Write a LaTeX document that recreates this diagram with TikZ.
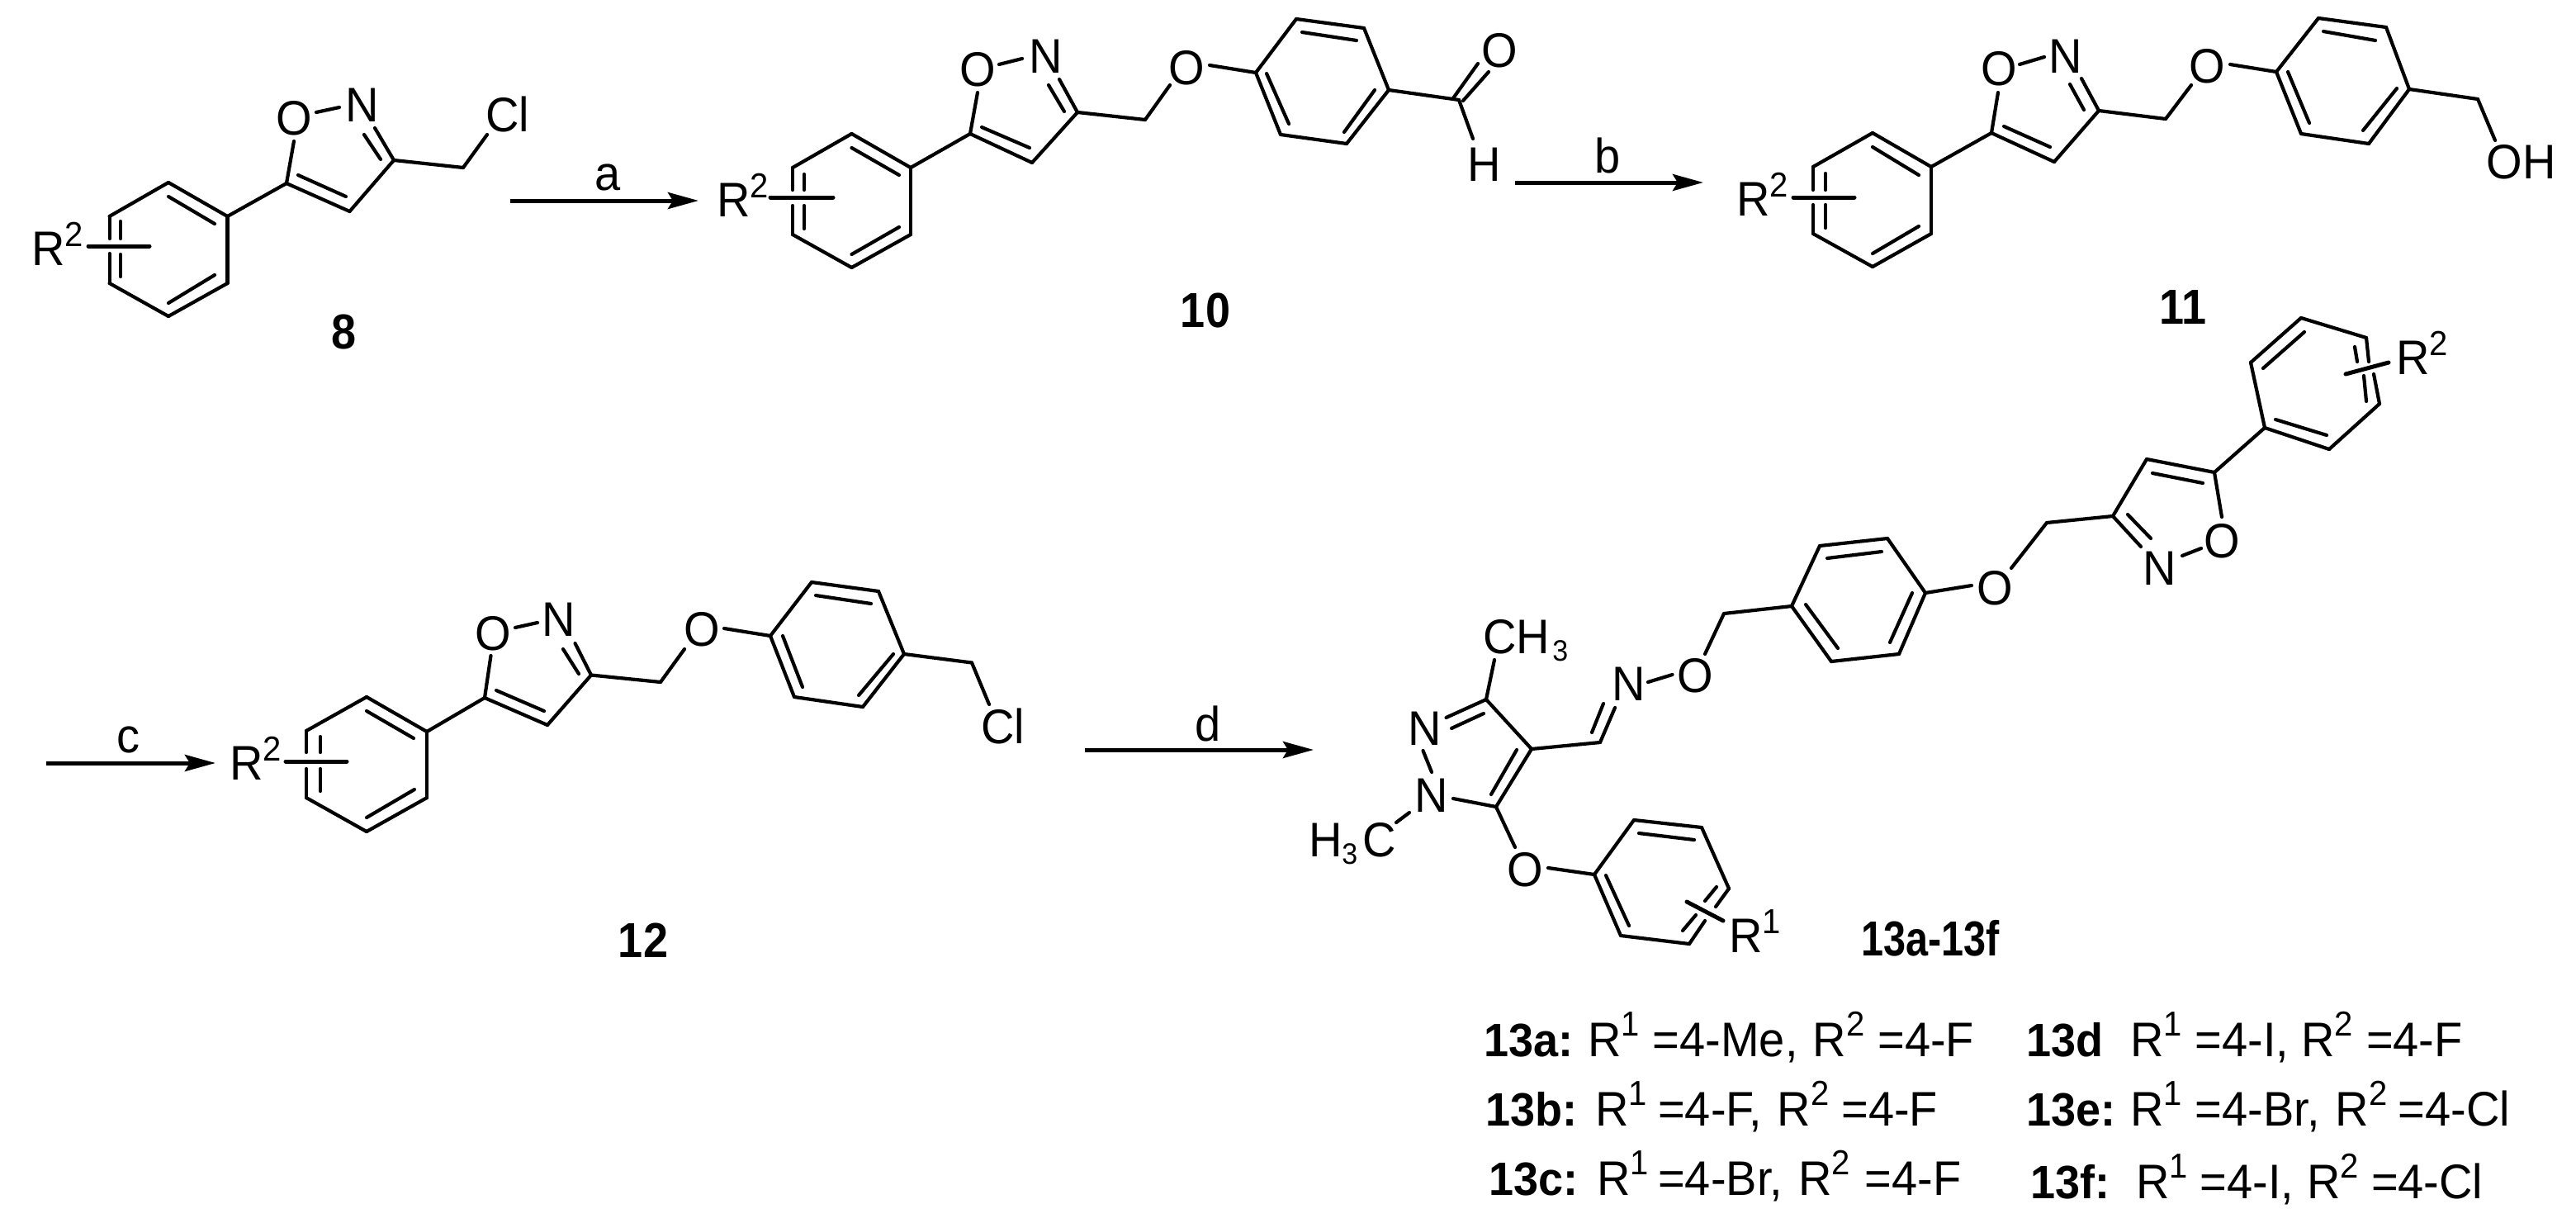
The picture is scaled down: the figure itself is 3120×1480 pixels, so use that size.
\documentclass[tikz,border=0pt]{standalone}
\usepackage{fontspec}
\setmainfont{Liberation Sans}
\usetikzlibrary{arrows.meta}
\newcommand{\rr}[2][21pt]{R\raisebox{#1}{\fontsize{40}{40}\selectfont #2}}
\newcommand{\subn}{\raisebox{-9.5pt}{\fontsize{34}{34}\selectfont 3}}
\newcommand{\bn}[1]{{\fontsize{54}{54}\selectfont\bfseries #1}}
\newcommand{\pts}[1]{\foreach \n/\px/\py in {#1} \coordinate (\n) at (\px,\py);}
\newcommand{\bonds}[1]{\foreach \pa/\pb in {#1} \draw[bond] (\pa) -- (\pb);}
\tikzset{
  bond/.style={line width=4.2pt,line cap=round,line join=round,black},
  subst/.style={line width=5pt,line cap=round,black},
  rxn/.style={line width=5pt,black,-{Stealth[length=37pt,width=20pt,inset=6pt]}},
  atom/.style={inner sep=0pt,outer sep=0pt,yscale=1.05,font=\fontsize{56}{56}\selectfont,text=black},
  lab/.style={atom,anchor=base west},
  num/.style={atom,yscale=1.05,font=\fontsize{54}{54}\selectfont\bfseries},
  entry/.style={inner sep=0pt,outer sep=0pt,yscale=1.05,anchor=base west,font=\fontsize{56}{56}\selectfont,text=black}
}
\begin{document}
\begin{tikzpicture}[x=1pt,y=-1pt]
\useasboundingbox (0,0) rectangle (3120,1480);
\fill[white] (0,0) rectangle (3120,1480);

% ---------- compound 8
\pts{h1/204/221,h2/275.5/262,h3/275.5/343,h4/204/383,h5/132.6/343,h6/132.6/262,
 h5g/132.6/307,h6g/132.6/289,hi1/204/238,hi2/260/271,hi3/204/367,hi4/260/333,hi5/146/268,hi6/146/289,hi7/146/308,hi8/146/335,
 hs1/107/298,hs2/181/298,
 hc5/347/222,hc4/423.5/256,hc3/477/194,hno/383/136,hon/411/130,hoc/356/171,hnc/454/155,hn1/441/163,hn2/461/193,hd1/361/212,hd2/419/238,
 hch/561/203,hcl/590/163}
\bonds{h1/h2,h2/h3,h3/h4,h4/h5,h5/h5g,h6g/h6,h6/h1,hi1/hi2,hi3/hi4,hi5/hi6,hi7/hi8,h2/hc5,hc5/hc4,hc4/hc3,hno/hon,hoc/hc5,hnc/hc3,hn1/hn2,hd1/hd2,hc3/hch,hch/hcl}
\draw[subst] (hs1) -- (hs2);
\node[lab] (r8) at (38,321) {\rr{2}};
\node[atom] (o8) at (356,143) {O};
\node[atom] (n8) at (439,127) {N};
\node[lab] (cl8) at (588,159) {Cl};
\node[num] (l8) at (417,402) {8};

% arrow a
\coordinate (a1) at (618,243); \coordinate (a2) at (846,243);
\draw[rxn] (a1) -- (a2);
\node[atom] (la) at (736,215) {a};

% ---------- compound 10
\pts{i1/1031.5/162,i2/1103/203,i3/1103/284,i4/1031.5/324,i5/960/284,i6/960/203,i5g/960/249,i6g/960/230,
 ii1/1031.5/179,ii2/1089/212,ii3/1031.5/308,ii4/1089/275,ii5/974/211,ii6/974/230,ii7/974/249,ii8/974/277,is1/933/239,is2/1009/239,
 ic5/1175/162,ic4/1250/197,ic3/1305/136,ino/1210/78,ion/1238/71,ioc/1184/112,inc/1283/96,in1/1270/103,in2/1289/135,id1/1189/154,id2/1247/179,
 ich/1387/145,io1/1417/103,io2/1465/79,
 j1/1521/88,j2/1570/23,j3/1652/34,j4/1682/109,j5/1631/174,j6/1551/163,
 ji1/1577/39,ji2/1643/49,ji3/1665/109,ji4/1628/160,ji5/1534/89,ji6/1561/150,
 jc/1767/121,jh/1784/168,jo1/1760/119,jo2/1790/77,jo3/1772/122,jo4/1803/87}
\bonds{i1/i2,i2/i3,i3/i4,i4/i5,i5/i5g,i6g/i6,i6/i1,ii1/ii2,ii3/ii4,ii5/ii6,ii7/ii8,i2/ic5,ic5/ic4,ic4/ic3,ino/ion,ioc/ic5,inc/ic3,in1/in2,id1/id2,ic3/ich,ich/io1,io2/j1,
 j1/j2,j2/j3,j3/j4,j4/j5,j5/j6,j6/j1,ji1/ji2,ji3/ji4,ji5/ji6,j4/jc,jc/jh,jo1/jo2,jo3/jo4}
\draw[subst] (is1) -- (is2);
\node[lab] (r10) at (868,262) {\rr{2}};
\node[atom] (o10a) at (1184,84) {O};
\node[atom] (n10) at (1266.5,68) {N};
\node[atom] (o10b) at (1437,82) {O};
\node[atom] (o10c) at (1816,61) {O};
\node[atom] (h10) at (1798,199) {H};
\node[num] (l10) at (1460,376) {10};

% arrow b
\coordinate (b1) at (1835,221); \coordinate (b2) at (2063,221);
\draw[rxn] (b1) -- (b2);
\node[atom] (lb) at (1947,188) {b};

% ---------- compound 11
\pts{k1/2268/161,k2/2339/202,k3/2339/283,k4/2268/323,k5/2196/283,k6/2196/202,k5g/2196/248,k6g/2196/230,
 ki1/2268/178,ki2/2324/212,ki3/2268/307,ki4/2324/274,ki5/2211/210,ki6/2211/230,ki7/2211/248,ki8/2211/276,ks1/2172/239,ks2/2246/239,
 kc5/2412/161,kc4/2488/196,kc3/2542/134,kno/2446/78,kon/2476/69,koc/2420/112,knc/2521/95,kn1/2507/102,kn2/2524/133,kd1/2427/153,kd2/2483/178,
 kch/2623/144,ko1/2654/103,ko2/2701/78,
 m1/2757/87,m2/2808/22,m3/2890/33,m4/2918/108,m5/2869/174,m6/2787/162,
 mi1/2814/38,mi2/2877/49,mi3/2903/107,mi4/2862/158,mi5/2771/87,mi6/2797/149,
 mc/3001/120,mh/3022/170}
\bonds{k1/k2,k2/k3,k3/k4,k4/k5,k5/k5g,k6g/k6,k6/k1,ki1/ki2,ki3/ki4,ki5/ki6,ki7/ki8,k2/kc5,kc5/kc4,kc4/kc3,kno/kon,koc/kc5,knc/kc3,kn1/kn2,kd1/kd2,kc3/kch,kch/ko1,ko2/m1,
 m1/m2,m2/m3,m3/m4,m4/m5,m5/m6,m6/m1,mi1/mi2,mi3/mi4,mi5/mi6,m4/mc,mc/mh}
\draw[subst] (ks1) -- (ks2);
\node[lab] (r11) at (2103,261) {\rr{2}};
\node[atom] (o11a) at (2421,83) {O};
\node[atom] (n11) at (2502,68) {N};
\node[atom] (o11b) at (2673,80) {O};
\node[lab] (oh11) at (3011.5,216) {OH};
\node[num] (l11) at (2644,372) {11};

% arrow c
\coordinate (c1) at (56,924); \coordinate (c2) at (261,924);
\draw[rxn] (c1) -- (c2);
\node[atom] (lc) at (155,896) {c};

% ---------- compound 12
\pts{p1/444/844,p2/517/886,p3/517/966,p4/444/1007,p5/371/966,p6/371/885,p5g/371/931,p6g/371/911,
 pi1/444/861,pi2/501/894,pi3/444/990,pi4/502/956,pi5/388/892,pi6/388/911,pi7/388/931,pi8/388/958,ps1/346/922,ps2/420/922,
 pc5/587/845,pc4/663/878,pc3/716/817.5,pno/624/760,pon/651/754,poc/594.5/794,pnc/696.5/779,pn1/682/786,pn2/701/816,pd1/601/836,pd2/659/861,
 pch/800/826,po1/829/786,po2/877/761,
 q1/933/770,q2/983/705,q3/1064/716,q4/1095/792,q5/1045/856,q6/962/844,
 qi1/988/721,qi2/1055/731,qi3/1082/792,qi4/1040/842,qi5/948/770,qi6/972/832,
 qc/1177/802.5,qh/1198/853}
\bonds{p1/p2,p2/p3,p3/p4,p4/p5,p5/p5g,p6g/p6,p6/p1,pi1/pi2,pi3/pi4,pi5/pi6,pi7/pi8,p2/pc5,pc5/pc4,pc4/pc3,pno/pon,poc/pc5,pnc/pc3,pn1/pn2,pd1/pd2,pc3/pch,pch/po1,po2/q1,
 q1/q2,q2/q3,q3/q4,q4/q5,q5/q6,q6/q1,qi1/qi2,qi3/qi4,qi5/qi6,q4/qc,qc/qh}
\draw[subst] (ps1) -- (ps2);
\node[lab] (r12) at (278,944) {\rr{2}};
\node[atom] (o12a) at (597,767) {O};
\node[atom] (n12) at (677,750) {N};
\node[atom] (o12b) at (850,762.5) {O};
\node[lab] (cl12) at (1188,900) {Cl};
\node[num] (l12) at (779,1139) {12};

% arrow d
\coordinate (d1) at (1314,908); \coordinate (d2) at (1591,908);
\draw[rxn] (d1) -- (d2);
\node[atom] (ld) at (1463,876) {d};

% ---------- compound 13
\pts{t3/1800/847,t4/1855/907,t5/1812/977,tn1/1751.5/869,tn2/1758/882,tn3/1797/864,tnn1/1723.5/909,tnn2/1734/935,tn5/1760/967,
 td1/1837/908,td2/1806/962,tme/1810/799,tm1/1691/996,tm2/1707/984,to5/1835/1026,to6/1875/1051,
 u1/1931/1059,u2/1979/993,u3/2061/1002,u4/2094/1076,u5/2046/1143,u6/1963/1133,u4g/2078/1098,u5g/2065/1115,
 ui1/1985/1009,ui2/2052/1017,ui3/2079/1074,ui4/2065/1091,ui5/2054/1108,ui6/2038/1127,ui7/1945/1060,ui8/1973/1121,us1/2043/1092,us2/2087/1115,
 tch/1938/899,tcn/1956/857,tc1/1928/887,tc2/1942/852,tno/1996/826,ton/2025.5/817,tox/2065/792,tx/2088/743,
 v1/2170/734,v2/2204/661,v3/2286/652,v4/2332/718,v5/2300/792,v6/2218/801,
 vi1/2213/676,vi2/2279/668,vi3/2316/718,vi4/2289/778,vi5/2187/732,vi6/2226/785,
 vo1/2388/709,vo2/2436/688,vch/2479/633,w3/2559/625,w4/2600/556,w5/2682/572,wd1/2607/573,wd2/2668/585,wo/2691/626,won/2666/664,wno/2643/673,wnc/2593/662,wn1/2577/623,wn2/2605/652,
 x1/2743/518,x2/2726/439,x3/2787/385,x4/2866/409,x5/2882/489,x6/2821/544,x4g/2869/438,x5g/2875/453,
 xi1/2741/446,xi2/2791/402,xi3/2756/508,xi4/2818/527,xi5/2852/420,xi6/2855/438,xi7/2863/455,xi8/2866/486,xs1/2841/453,xs2/2893/439}
\bonds{t3/t4,t4/t5,tn1/t3,tn2/tn3,tnn1/tnn2,tn5/t5,td1/td2,t3/tme,tm1/tm2,t5/to5,to6/u1,
 u1/u2,u2/u3,u3/u4,u4/u4g,u5g/u5,u5/u6,u6/u1,ui1/ui2,ui3/ui4,ui5/ui6,ui7/ui8,
 t4/tch,tch/tcn,tc1/tc2,tno/ton,tox/tx,tx/v1,
 v1/v2,v2/v3,v3/v4,v4/v5,v5/v6,v6/v1,vi1/vi2,vi3/vi4,vi5/vi6,
 v4/vo1,vo2/vch,vch/w3,w3/w4,w4/w5,wd1/wd2,w5/wo,won/wno,w3/wnc,wn1/wn2,w5/x1,
 x1/x2,x2/x3,x3/x4,x4/x4g,x5g/x5,x5/x6,x6/x1,xi1/xi2,xi3/xi4,xi5/xi6,xi7/xi8}
\draw[subst] (us1) -- (us2);
\draw[subst] (xs1) -- (xs2);
\node[atom] (n13a) at (1726,882) {N};
\node[atom] (n13b) at (1734,963) {N};
\node[lab] (me1) at (1796.5,791) {CH\hspace{3pt}\subn};
\node[lab] (me2) at (1585,1037) {H\subn\hspace{6pt}C};
\node[atom] (o13a) at (1847,1053) {O};
\node[lab] (r1) at (2094,1153) {\rr{1}};
\node[atom] (n13c) at (1973,828) {N};
\node[atom] (o13b) at (2053.5,818) {O};
\node[atom] (o13c) at (2416,712) {O};
\node[atom] (o13d) at (2691,655) {O};
\node[atom] (n13d) at (2616,688) {N};
\node[lab] (r2) at (2902,453) {\rr{2}};
\node[num,anchor=base west,xscale=.9] (l13) at (2254,1157) {13a-13f};

% ---------- table
\newcommand{\tr}[1]{\rr[23pt]{#1}}
\node[entry] (ta) at (1797,1279) {\bn{13a:}\hspace{18pt}\tr{1}\hspace{16pt}=4-Me,\hspace{18pt}\tr{2}\hspace{16pt}=4-F};
\node[entry] (tb) at (1799,1363) {\bn{13b:}\hspace{22pt}\tr{1}\hspace{13.5pt}=4-F,\hspace{18.5pt}\tr{2}\hspace{15pt}=4-F};
\node[entry] (tc) at (1803,1447) {\bn{13c:}\hspace{23pt}\tr{1}\hspace{11.5pt}=4-Br,\hspace{19pt}\tr{2}\hspace{18pt}=4-F};
\node[entry] (td) at (2454,1279) {\bn{13d}\hspace{33pt}\tr{1}\hspace{16pt}=4-I,\hspace{15pt}\tr{2}\hspace{16pt}=4-F};
\node[entry] (te) at (2454,1363) {\bn{13e:}\hspace{18pt}\tr{1}\hspace{16pt}=4-Br,\hspace{19pt}\tr{2}\hspace{13.5pt}=4-Cl};
\node[entry] (tf) at (2459,1451) {\bn{13f:}\hspace{32pt}\tr{1}\hspace{15pt}=4-I,\hspace{16pt}\tr{2}\hspace{15pt}=4-Cl};
\end{tikzpicture}
\end{document}
